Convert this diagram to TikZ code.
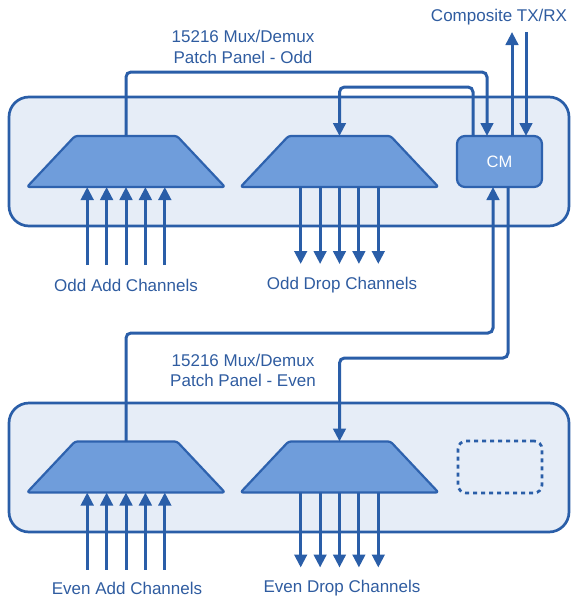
\documentclass[tikz,border=0pt]{standalone}
\usepackage{fontspec}
\setmainfont{Liberation Sans}
\usetikzlibrary{arrows.meta,calc}
\definecolor{lineblue}{RGB}{42,94,168}
\definecolor{panelfill}{RGB}{230,237,247}
\definecolor{trapfill}{RGB}{111,157,219}
\definecolor{trapborder}{RGB}{46,98,174}
\definecolor{txtblue}{RGB}{47,92,160}
\begin{document}
\begin{tikzpicture}[x=1pt,y=-1pt,
  link/.style={draw=lineblue,line width=3pt,rounded corners=5pt},
  tipped/.style={-{Triangle[width=12.5pt,length=13pt]}},
  panel/.style={draw=lineblue,line width=2.7pt,fill=panelfill,rounded corners=20pt,
    minimum width=560pt,minimum height=129pt,inner sep=0pt},
  muxframe/.style={rectangle,minimum width=198pt,minimum height=51pt,inner sep=0pt,outer sep=0pt},
  muxfill/.style={draw=trapborder,fill=trapfill,line width=2.2pt,rounded corners=2.5pt,line join=round},
  cmbox/.style={rectangle,draw=trapborder,fill=trapfill,line width=2.2pt,rounded corners=8pt,
    minimum width=85pt,minimum height=51pt,inner sep=0pt,outer sep=0pt,
    text=white,font=\fontsize{16.5}{19}\selectfont},
  emptybox/.style={rectangle,draw=lineblue,line width=2.7pt,dash pattern=on 4pt off 4pt,
    rounded corners=8pt,minimum width=84pt,minimum height=52pt,inner sep=0pt},
  lbl/.style={text=txtblue,font=\fontsize{17}{20.5}\selectfont,inner sep=0pt,align=center}
]
\useasboundingbox (0,0) rectangle (572,600);

% panels
\node[panel] (p1) at (289,161.5) {};
\node[panel] (p2) at (289,467.5) {};

% mux / demux frames (trapezoids drawn on them)
\node[muxframe] (om) at (126,161.5) {};
\node[muxframe] (od) at (339.5,161.5) {};
\node[muxframe] (em) at (126,467) {};
\node[muxframe] (ed) at (339.5,467) {};
\foreach \m in {om,od,em,ed}{
  \path[muxfill] (\m.south west) -- ($(\m.north west)+(48,0)$) -- ($(\m.north east)+(-48,0)$)
    -- (\m.south east) -- cycle;
}

\node[cmbox] (cm) at (499.5,161.5) {CM};
\node[emptybox] (eb) at (500,467) {};

% labels
\node[lbl] (toplbl) at (499,17) {Composite TX/RX};
\node[lbl] (oddlbl) at (243,47) {15216 Mux/Demux\\[0pt]Patch Panel - Odd};
\node[lbl] (evenlbl) at (243,370.5) {15216 Mux/Demux\\[0pt]Patch Panel - Even};
\node[lbl] (oal) at (126,285) {Odd Add Channels};
\node[lbl] (odl) at (342,285) {Odd Drop Channels};
\node[lbl] (eal) at (127,588) {Even Add Channels};
\node[lbl] (edl) at (342,588) {Even Drop Channels};

% bend coordinates
\coordinate (b1) at (487,72);
\coordinate (b2) at (473,87);
\coordinate (tx) at (512,32);
\coordinate (rx) at (526,32);
\coordinate (b3) at (493,333);
\coordinate (b4) at (508,358);

% connectors
\draw[link,tipped] (om.north) |- (b1) -- (b1 |- cm.north);
\draw[link,tipped] (b2 |- cm.north) -- (b2) -| (od.north);
\draw[link,tipped] (tx |- cm.north) -- (tx);
\draw[link,tipped] (rx) -- (rx |- cm.north);
\draw[link,tipped] (em.north) |- (b3) -- (b3 |- cm.south);
\draw[link,tipped] (b4 |- cm.south) -- (b4) -| (ed.north);

% channel arrows
\foreach \d in {-38.8,-19.4,0,19.4,38.8}{
  \draw[link,tipped] ($(om.south)+(\d,78)$) -- ([xshift=\d pt]om.south);
  \draw[link,tipped] ([xshift=\d pt]od.south) -- ($(od.south)+(\d,77)$);
  \draw[link,tipped] ($(em.south)+(\d,77)$) -- ([xshift=\d pt]em.south);
  \draw[link,tipped] ([xshift=\d pt]ed.south) -- ($(ed.south)+(\d,75)$);
}
\end{tikzpicture}
\end{document}
